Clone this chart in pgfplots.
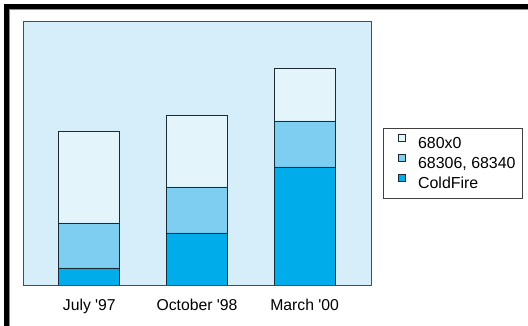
\documentclass[border=0pt]{standalone}
\usepackage{fontspec}
\setmainfont{Liberation Sans}
\usepackage{pgfplots}
\pgfplotsset{compat=1.18}
\definecolor{bgblue}{HTML}{D6EEF9}
\definecolor{cA}{HTML}{E3F4FB}
\definecolor{cB}{HTML}{7ECEF2}
\definecolor{cC}{HTML}{00ADEA}
\definecolor{edge}{HTML}{1C2A33}
\begin{document}
\begin{tikzpicture}[font=\fontsize{15.8}{18}\selectfont]
\useasboundingbox (0,0) rectangle (528bp,326bp);
\fill[white] (0,0) rectangle (528bp,326bp);
\draw[line width=5bp] (6.5bp,0) -- (6.5bp,319.5bp) -- (528bp,319.5bp);
\draw[black!45, line width=0.8bp] (9.4bp,0) -- (9.4bp,316.6bp) -- (528bp,316.6bp);
\begin{axis}[
  at={(23bp,41bp)}, anchor=south west,
  scale only axis, width=348bp, height=264bp,
  ybar stacked, bar width=61bp,
  xmin=-0.616, xmax=2.616, ymin=0, ymax=264,
  enlargelimits=false,
  axis background/.style={fill=bgblue},
  axis line style={draw=black!70, line width=0.8bp},
  ytick=\empty,
  xtick=data,
  xticklabels={July \textquotesingle 97, October \textquotesingle 98, March \textquotesingle 00},
  major tick length=0pt,
  xticklabel style={yshift=-11bp},
  every axis plot/.append style={draw=edge, line width=0.8bp},
  reverse legend,
  legend cell align=left,
  legend style={at={(1.0345,0.5947)}, anchor=north west,
    font=\fontsize{16}{18}\selectfont,
    draw=black!75, line width=0.8bp, fill=white,
    inner xsep=5bp, inner ysep=6bp, row sep=1.5bp, column sep=11bp,
    nodes={inner sep=2bp, text height=12bp, text depth=2bp}},
  legend image code/.code={\path (0bp,0bp); \draw[#1, draw=edge, line width=0.6bp] (9bp,2bp) rectangle (16bp,9bp);},
]
\addplot[fill=cC] coordinates {(0,17) (1,52) (2,118)};
\addplot[fill=cB] coordinates {(0,45) (1,46) (2,46)};
\addplot[fill=cA] coordinates {(0,92) (1,72) (2,53)};
\legend{ColdFire, {68306, 68340}, 680x0}
\end{axis}
\end{tikzpicture}
\end{document}
